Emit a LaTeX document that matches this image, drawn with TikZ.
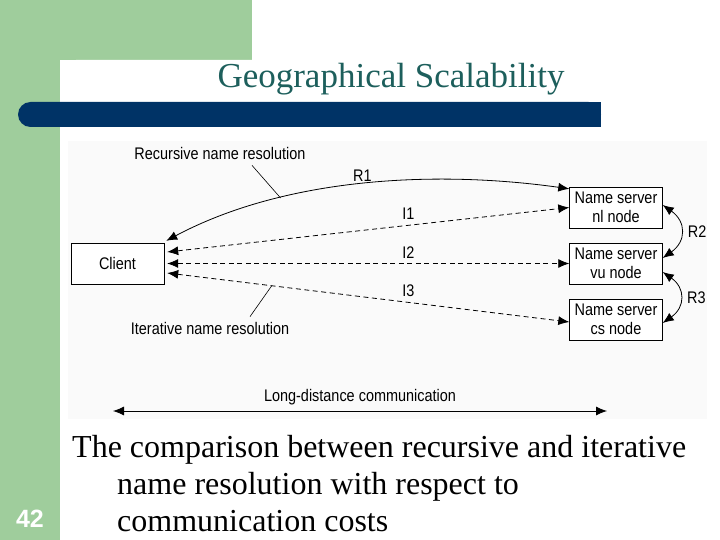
\documentclass[tikz,border=0pt]{standalone}
\usepackage{fontspec}
\setmainfont{Liberation Serif}
\setsansfont{Liberation Sans}
\newfontfamily\figfont[FakeStretch=0.86]{Liberation Sans}
\usetikzlibrary{arrows.meta,positioning,calc}
\definecolor{slidegreen}{HTML}{9FCD9C}
\definecolor{slideblue} {HTML}{003366}
\definecolor{titleteal} {HTML}{1D5F5C}

\begin{document}
\begin{tikzpicture}[
  srv/.style={draw,fill=white,minimum width=93pt,minimum height=41pt,
              inner sep=1pt,align=center,
              font=\figfont\fontsize{16.8}{19}\selectfont},
  lbl/.style={font=\figfont\fontsize{16.8}{18}\selectfont,inner sep=1pt},
  arr/.style={{Latex[length=11pt,width=9pt]}-{Latex[length=11pt,width=9pt]},
              line width=0.8pt},
  darr/.style={arr,dash pattern=on 5pt off 3.5pt},
  capline/.style={font=\fontsize{32}{36}\selectfont,anchor=base west,inner sep=0pt},
  x=1pt,y=-1pt
]
\useasboundingbox (0,0) rectangle (720,540);

% Slide frame
\fill[white] (0,0) rectangle (720,540);
\fill[slidegreen] (0,0) rectangle (252,60);
\fill[slidegreen] (0,0) rectangle (60,540);
\fill[white,rounded corners=16pt] (60,60) rectangle (740,580);
\fill[slideblue,rounded corners=12.5pt] (18,102) rectangle (601,127);
\fill[slideblue] (300,102) rectangle (601,127);
\node[font=\fontsize{35}{40}\selectfont,text=titleteal,anchor=base,inner sep=0pt]
  (title) at (391,88) {Geographical Scalability};
\node[text=white,font=\sffamily\bfseries\fontsize{25}{28}\selectfont,
      anchor=base,inner sep=0pt] (pgno) at (30,527) {42};

% Figure
\fill[gray!4] (68,141) rectangle (707,419);
\node[srv] (client) at (117.5,263.5) {Client};
\node[srv] (nl) at (616,207.5) {Name server\\nl node};
\node[srv] (vu) at (616,263.5) {Name server\\vu node};
\node[srv] (cs) at (616,319.5) {Name server\\cs node};

% Recursive
\draw[arr] ([xshift=2pt,yshift=2pt]client.north east)
  to[out=28,in=172,looseness=0.85] coordinate[pos=0.3] (r1p)
  node[lbl,pos=0.5,above=1pt]{R1} ([yshift=-2pt]nl.north west);
\draw[arr] ([yshift=2.5pt]nl.east)
  to[out=-35,in=35,looseness=1.4] node[lbl,right=6pt]{R2} ([yshift=5.5pt]vu.east);
\draw[arr] ([yshift=-8.5pt]vu.east)
  to[out=-35,in=35,looseness=1.4] node[lbl,right=6pt]{R3} ([yshift=-3.5pt]cs.east);

% Iterative
\draw[darr] ([xshift=3pt,yshift=11.5pt]client.east)
  -- node[lbl,above=4pt,pos=0.6]{I1} (nl.west);
\draw[darr] ([xshift=3pt]client.east)
  -- node[lbl,above=4pt,pos=0.6]{I2} (vu.west);
\draw[darr] ([xshift=3pt,yshift=-9.5pt]client.east)
  -- coordinate[pos=0.26] (i3p) node[lbl,above=4pt,pos=0.6]{I3}
  ([yshift=-2.5pt]cs.west);

\node[lbl] (rec) at (220,153) {Recursive name resolution};
\draw[line width=0.6pt] ([xshift=32pt,yshift=-5pt]rec.south) -- (r1p);
\node[lbl] (itr) at (210,328) {Iterative name resolution};
\draw[line width=0.6pt] ([xshift=40pt,yshift=4pt]itr.north) -- (i3p);

% Long distance
\coordinate (ldw) at (113,411);
\coordinate (lde) at (607,411);
\draw[arr] (ldw) -- node[lbl,above=5pt]{Long-distance communication} (lde);

% Caption
\node[capline] (cap1) at (72,457) {The comparison between recursive and iterative};
\node[capline] (cap2) at (117,494) {name resolution with respect to};
\node[capline] (cap3) at (117,531) {communication costs};
\end{tikzpicture}
\end{document}
